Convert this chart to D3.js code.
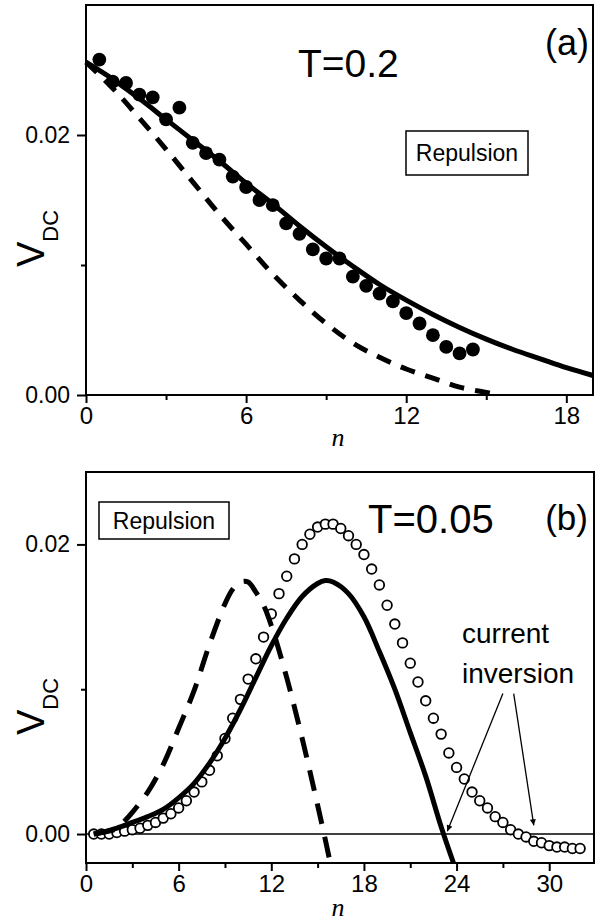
<!DOCTYPE html>
<html>
<head>
<meta charset="utf-8">
<script src="https://cdn.jsdelivr.net/npm/d3@7"></script>
<style>
body{margin:0;background:#fff;}
svg text{font-family:"Liberation Sans",Arial,sans-serif;fill:#000;}
</style>
</head>
<body>
<script>
// ---- panel (a): T=0.2 ----
var nDotsA = [0.5,1,1.5,2,2.5,3,3.5,4,4.5,5,5.5,6,6.5,7,7.5,8,8.5,9,9.5,10,10.5,11,11.5,12,12.5,13,13.5,14,14.5];
var vDotsA = [0.0258,0.0241,0.0240,0.0231,0.0229,0.0212,0.0221,0.0194,0.0186,0.0181,0.0168,0.0160,0.0150,0.0146,
              0.0132,0.0124,0.0112,0.0105,0.0105,0.0091,0.0084,0.0078,0.0072,0.0063,0.0055,0.0046,0.0037,0.0032,0.0035];
var nSolidA = [0,1,2,3,4,5,6,7,8,9,10,11,12,13,14,15,16,17,18,19];
var vSolidA = [0.0256,0.0243,0.0228,0.0212,0.0196,0.0180,0.0163,0.0147,0.0130,0.0114,0.0099,0.0085,0.0073,0.0062,0.0052,0.0043,0.0035,0.0028,0.0021,0.0015];
var nDashA = [0,1,2,3,4,5,6,7,8,9,10,11,12,13,14,15,15.4];
var vDashA = [0.0256,0.0236,0.0213,0.0189,0.0164,0.0139,0.0116,0.0093,0.0073,0.0055,0.0040,0.0029,0.0020,0.0013,0.0006,0.0002,0.0];
var xTicksA = [0,6,12,18], xMinorA = [3,9,15];
var yTicksA = [0,0.02], yMinorA = [0.01];

// ---- panel (b): T=0.05 ----
var nOpenB = [0.5,1,1.5,2,2.5,3,3.5,4,4.5,5,5.5,6,6.5,7,7.5,8,8.5,9,9.5,10,10.5,11,11.5,12,12.5,13,13.5,14,14.5,15,15.5,16,
              16.5,17,17.5,18,18.5,19,19.5,20,20.5,21,21.5,22,22.5,23,23.5,24,24.5,25,25.5,26,26.5,27,27.5,28,28.5,29,29.5,30,30.5,31,31.5,32];
var vOpenB = [0.0000,0.0000,0.0000,0.0001,0.0002,0.0003,0.0004,0.0006,0.0008,0.0011,0.0014,0.0018,0.0023,0.0029,0.0036,0.0044,
              0.0054,0.0066,0.0080,0.0093,0.0107,0.0121,0.0136,0.0152,0.0166,0.0178,0.0190,0.0200,0.0207,0.0212,0.0214,0.0214,
              0.0211,0.0206,0.0200,0.0193,0.0183,0.0172,0.0158,0.0145,0.0132,0.0118,0.0105,0.0092,0.0080,0.0069,0.0056,0.0046,
              0.0038,0.0029,0.0023,0.0018,0.0012,0.0008,0.0003,0.0000,-0.0002,-0.0005,-0.0006,-0.0008,-0.0009,-0.0009,-0.0010,-0.0010];
var nSolidB = [0.5,1,2,3,4,5,6,7,8,9,10,11,12,13,14,15,15.5,16,17,18,19,20,21,22,23,23.8];
var vSolidB = [0.0000,0.0001,0.0004,0.0008,0.0012,0.0017,0.0025,0.0035,0.0049,0.0066,0.0086,0.0108,0.0130,0.0149,0.0164,0.0173,
               0.0175,0.0174,0.0166,0.0150,0.0126,0.0100,0.0070,0.0040,0.0005,-0.0020];
var nDashB = [0.5,1,1.5,2,2.5,3,4,5,6,7,8,9,9.5,10,10.5,11,11.5,12,13,14,15,15.5,15.8];
var vDashB = [0.0000,0.0001,0.0002,0.0004,0.0009,0.0015,0.0029,0.0048,0.0073,0.0099,0.0131,0.0159,0.0169,0.0174,0.0174,0.0167,
              0.0158,0.0144,0.0108,0.0066,0.0020,-0.0004,-0.0019];
var xTicksB = [0,6,12,18,24,30], xMinorB = [3,9,15,21,27];
var yTicksB = [0,0.02], yMinorB = [0.01];
// arrows: [from n, from V, to n, to V]
var arrowsB = [[27.0,0.0097,23.4,0.0002],[27.7,0.0097,29.0,0.0006]];

var svg = d3.select("body").append("svg")
    .attr("width",602)
    .attr("height",922);

svg.append("defs").append("marker")
    .attr("id","head")
    .attr("viewBox","0 0 10 10")
    .attr("refX",10).attr("refY",5)
    .attr("markerWidth",12).attr("markerHeight",6)
    .attr("markerUnits","userSpaceOnUse")
    .attr("orient","auto")
  .append("path")
    .attr("d","M0,0 L10,5 L0,10 Z")
    .attr("fill","#000");

var xA = d3.scaleLinear().domain([0,19]).range([86,593]);
var yA = d3.scaleLinear().domain([0,0.03]).range([395,5]);
var xB = d3.scaleLinear().domain([0,32.9]).range([86,594]);
var yB = d3.scaleLinear().domain([-0.002,0.025]).range([863,472]);

function drawAxes(x,y,xMajor,xMinor,yMajor,yMinor){
    var x0 = x.range()[0], x1 = x.range()[1], yb = y.range()[0], yt = y.range()[1];
    var gx = svg.append("g")
        .attr("transform","translate(0,"+yb+")")
        .call(d3.axisBottom(x).tickValues(xMajor).tickSize(8).tickPadding(4).tickFormat(d3.format("d")));
    var gxm = svg.append("g")
        .attr("transform","translate(0,"+yb+")")
        .call(d3.axisBottom(x).tickValues(xMinor).tickSize(5).tickFormat(""));
    var gy = svg.append("g")
        .attr("transform","translate("+x0+",0)")
        .call(d3.axisLeft(y).tickValues(yMajor).tickSize(9).tickPadding(7).tickFormat(d3.format(".2f")));
    var gym = svg.append("g")
        .attr("transform","translate("+x0+",0)")
        .call(d3.axisLeft(y).tickValues(yMinor).tickSize(5).tickFormat(""));
    [gx,gxm,gy,gym].forEach(function(g){
        g.select(".domain").remove();
        g.selectAll("line").attr("stroke","#000").attr("stroke-width",2);
        g.selectAll("text").attr("font-size",null).style("font-size","24px")
            .style("font-family","'Liberation Sans',Arial,sans-serif").attr("fill","#000");
    });
    gy.selectAll("text").style("font-size","23px");
    svg.append("rect")
        .attr("x",x0).attr("y",yt)
        .attr("width",x1-x0).attr("height",yb-yt)
        .attr("fill","none").attr("stroke","#000").attr("stroke-width",2);
}

function yLabel(xpos,ypos){
    var t = svg.append("text")
        .attr("transform","translate("+xpos+","+ypos+") rotate(-90)")
        .style("font-size","38px");
    t.append("tspan").text("V");
    t.append("tspan").attr("dy",14).style("font-size","22px").text("DC");
}

function xLabel(xpos,ypos){
    svg.append("text")
        .attr("x",xpos).attr("y",ypos)
        .attr("text-anchor","middle")
        .style("font-family","'Liberation Serif','Times New Roman',serif")
        .style("font-style","italic")
        .style("font-size","26px")
        .text("n");
}

function boxLabel(x,y,w,h,label){
    svg.append("rect").attr("x",x).attr("y",y).attr("width",w).attr("height",h)
        .attr("fill","#fff").attr("stroke","#000").attr("stroke-width",1.5);
    svg.append("text").attr("x",x+w/2).attr("y",y+h/2+8)
        .attr("text-anchor","middle").style("font-size","23px").text(label);
}

// ---------- panel (a) ----------
drawAxes(xA,yA,xTicksA,xMinorA,yTicksA,yMinorA);

var lineA = d3.line().x(function(d){return xA(d[0]);}).y(function(d){return yA(d[1]);}).curve(d3.curveCatmullRom);

svg.append("path")
    .datum(d3.zip(nDashA,vDashA))
    .attr("d",lineA)
    .attr("fill","none").attr("stroke","#000").attr("stroke-width",5)
    .attr("stroke-dasharray","15,11");

svg.append("path")
    .datum(d3.zip(nSolidA,vSolidA))
    .attr("d",lineA)
    .attr("fill","none").attr("stroke","#000").attr("stroke-width",5);

svg.append("g").selectAll("circle")
    .data(d3.zip(nDotsA,vDotsA))
    .enter()
    .append("circle")
    .attr("cx",function(d){return xA(d[0]);})
    .attr("cy",function(d){return yA(d[1]);})
    .attr("r",6.9)
    .attr("fill","#000");

svg.append("text").attr("x",298).attr("y",77).style("font-size","39px").text("T=0.2");
svg.append("text").attr("x",589).attr("y",55).attr("text-anchor","end").style("font-size","36px").text("(a)");
boxLabel(406,131,122,44,"Repulsion");
yLabel(44,267);
xLabel(338,446);

// ---------- panel (b) ----------
drawAxes(xB,yB,xTicksB,xMinorB,yTicksB,yMinorB);

svg.append("line")
    .attr("x1",xB.range()[0]).attr("x2",xB.range()[1])
    .attr("y1",yB(0)).attr("y2",yB(0))
    .attr("stroke","#000").attr("stroke-width",1.6);

var lineB = d3.line().x(function(d){return xB(d[0]);}).y(function(d){return yB(d[1]);}).curve(d3.curveCatmullRom);

svg.append("g").selectAll("circle")
    .data(d3.zip(nOpenB,vOpenB))
    .enter()
    .append("circle")
    .attr("cx",function(d){return xB(d[0]);})
    .attr("cy",function(d){return yB(d[1]);})
    .attr("r",4.8)
    .attr("fill","#fff")
    .attr("stroke","#000")
    .attr("stroke-width",1.8);

svg.append("path")
    .datum(d3.zip(nDashB,vDashB))
    .attr("d",lineB)
    .attr("fill","none").attr("stroke","#000").attr("stroke-width",5)
    .attr("stroke-dasharray","21,13");

svg.append("path")
    .datum(d3.zip(nSolidB,vSolidB))
    .attr("d",lineB)
    .attr("fill","none").attr("stroke","#000").attr("stroke-width",5);

svg.append("g").selectAll("line")
    .data(arrowsB)
    .enter()
    .append("line")
    .attr("x1",function(d){return xB(d[0]);})
    .attr("y1",function(d){return yB(d[1]);})
    .attr("x2",function(d){return xB(d[2]);})
    .attr("y2",function(d){return yB(d[3]);})
    .attr("stroke","#000").attr("stroke-width",1.3)
    .attr("marker-end","url(#head)");

svg.append("text").attr("x",368).attr("y",533).style("font-size","40px").text("T=0.05");
svg.append("text").attr("x",588).attr("y",530).attr("text-anchor","end").style("font-size","35px").text("(b)");
boxLabel(99,502,130,37,"Repulsion");
svg.append("text").attr("x",462).attr("y",643).style("font-size","28px").text("current");
svg.append("text").attr("x",462).attr("y",683).style("font-size","28px").text("inversion");
yLabel(44,735);
xLabel(338,916);
</script>
</body>
</html>
